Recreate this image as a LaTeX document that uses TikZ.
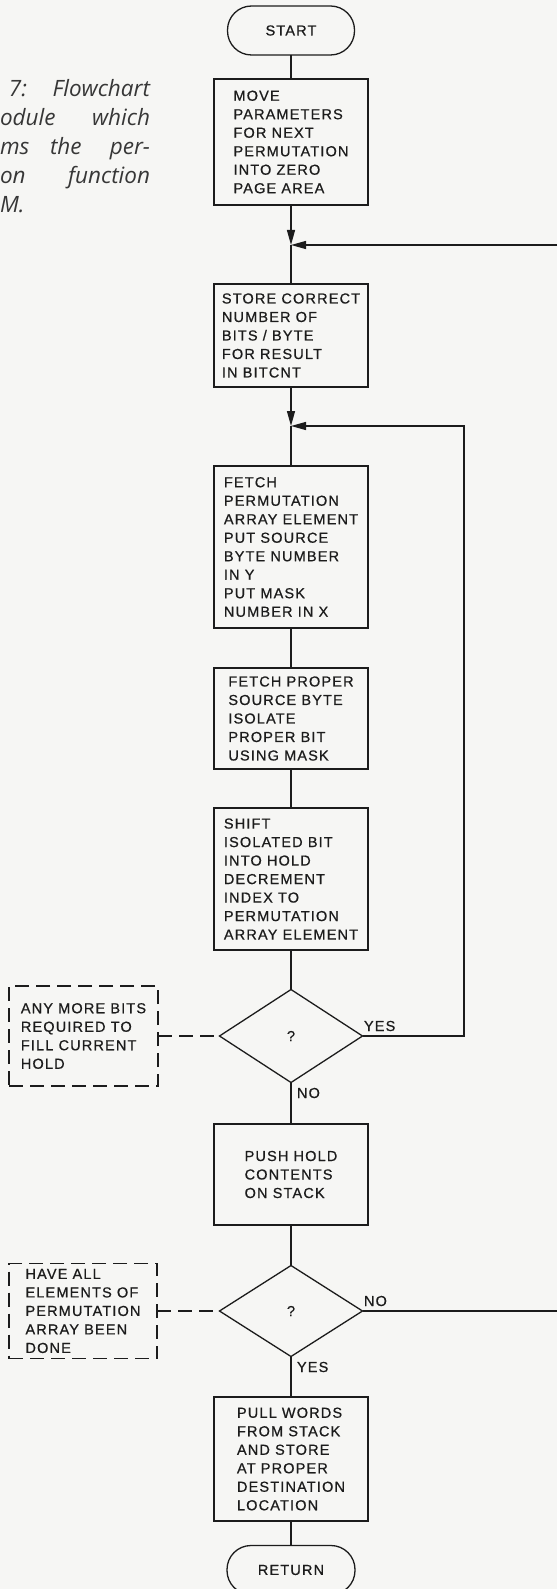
\documentclass[tikz,border=0pt]{standalone}
\usepackage{fontspec}
\usetikzlibrary{shapes.geometric,arrows.meta}
\newfontfamily\boxfont[LetterSpace=8,FakeBold=0.7]{Liberation Sans}
\newfontfamily\capfont{Open Sans}
\definecolor{bgc}{RGB}{246,246,244}
\definecolor{ink}{RGB}{28,28,28}
\definecolor{capink}{RGB}{55,55,55}
\begin{document}
\begin{tikzpicture}[x=1pt,y=-1pt,
  every node/.style={inner sep=0pt, outer sep=0pt, text=ink},
  txt/.style={font=\boxfont\fontsize{14.5}{18.5}\selectfont},
  proc/.style={txt, draw=ink, line width=1.3pt, minimum width=154pt, align=left},
  term/.style={txt, draw=ink, line width=1.3pt, rounded corners=24pt, minimum height=49pt},
  dec/.style={txt, diamond, draw=ink, line width=1.3pt, minimum width=143pt, minimum height=93pt, aspect=1.54},
  note/.style={txt, draw=ink, line width=1.3pt, dash pattern=on 14pt off 7pt, align=left},
  flow/.style={draw=ink, line width=1.3pt},
  dflow/.style={flow, dash pattern=on 14pt off 7pt},
  arr/.style={flow, -{Triangle[length=15pt,width=8pt]}},
  lbl/.style={txt, anchor=west},
  captxt/.style={font=\capfont\itshape\fontsize{22.5}{29}\selectfont, text=capink}
]
\useasboundingbox (0,0) rectangle (557,1589);
\fill[bgc] (0,0) rectangle (557,1589);

% caption (cropped at left edge)
\node[captxt, anchor=base west] (c1a) at (9,97) {7:};
\node[captxt, anchor=base east] (c1b) at (150,97) {Flowchart};
\node[captxt, anchor=base west] (c2a) at (0,126) {odule};
\node[captxt, anchor=base east] (c2b) at (150,126) {which};
\node[captxt, anchor=base west] (c3a) at (0,155) {ms};
\node[captxt, anchor=base west] (c3b) at (50,155) {the};
\node[captxt, anchor=base east] (c3c) at (150,155) {per-};
\node[captxt, anchor=base west] (c4a) at (0,184) {on};
\node[captxt, anchor=base east] (c4b) at (150,184) {function};
\node[captxt, anchor=base west] (c5a) at (0,213) {M.};

% main column
\node[term, minimum width=127pt] (start) at (291,30.5) {START};
\node[proc, minimum height=126pt] (move) at (291,142) {MOVE\\PARAMETERS\\FOR NEXT\\PERMUTATION\\INTO ZERO\\PAGE AREA};
\coordinate (j1) at (291,245);
\node[proc, minimum height=103pt] (store) at (291,335.5) {STORE CORRECT\\NUMBER OF\\BITS / BYTE\\FOR RESULT\\IN BITCNT};
\coordinate (j2) at (291,426);
\node[proc, minimum height=162pt] (fetch) at (291,547) {FETCH\\PERMUTATION\\ARRAY ELEMENT\\PUT SOURCE\\BYTE NUMBER\\IN Y\\PUT MASK\\NUMBER IN X};
\node[proc, minimum height=101pt] (src) at (291,718.5) {FETCH PROPER\\SOURCE BYTE\\ISOLATE\\PROPER BIT\\USING MASK};
\node[proc, minimum height=142pt] (shift) at (291,879) {SHIFT\\ISOLATED BIT\\INTO HOLD\\DECREMENT\\INDEX TO\\PERMUTATION\\ARRAY ELEMENT};
\node[dec] (d1) at (291,1036) {?};
\node[proc, minimum height=101pt] (push) at (291,1174.5) {PUSH HOLD\\CONTENTS\\ON STACK};
\node[dec, minimum height=91pt] (d2) at (291,1311) {?};
\node[proc, minimum height=124pt] (pull) at (291,1459) {PULL WORDS\\FROM STACK\\AND STORE\\AT PROPER\\DESTINATION\\LOCATION};
\node[term, minimum width=128pt] (ret) at (291,1570) {RETURN};

% annotation boxes
\node[note, minimum width=149pt, minimum height=100pt] (n1) at (83.5,1036) {ANY MORE BITS\\REQUIRED TO\\FILL CURRENT\\HOLD};
\node[note, minimum width=148pt, minimum height=95pt] (n2) at (83,1311) {HAVE ALL\\ELEMENTS OF\\PERMUTATION\\ARRAY BEEN\\DONE};

% connectors
\draw[flow] (start) -- (move);
\draw[arr] (move) -- (j1);
\draw[flow] (j1) -- (store);
\draw[arr] (store) -- (j2);
\draw[flow] (j2) -- (fetch);
\draw[flow] (fetch) -- (src);
\draw[flow] (src) -- (shift);
\draw[flow] (shift) -- (d1);
\draw[flow] (d1) -- (push);
\draw[flow] (push) -- (d2);
\draw[flow] (d2) -- (pull);
\draw[flow] (pull) -- (ret);

\coordinate (r1) at (464,1036);
\coordinate (r2) at (464,426);
\draw[arr] (d1.east) -- (r1) -- (r2) -- (j2);

\coordinate (e1) at (557,1311);
\coordinate (e2) at (557,245);
\draw[flow] (d2.east) -- (e1);
\draw[arr] (e2) -- (j1);

\draw[dflow] (n1.east) -- (d1.west);
\draw[dflow] (n2.east) -- (d2.west);

% branch labels
\node[lbl] (y1) at (364,1026) {YES};
\node[lbl] (no1) at (297,1093) {NO};
\node[lbl] (no2) at (364,1301) {NO};
\node[lbl] (y2) at (297,1367) {YES};
\end{tikzpicture}
\end{document}
